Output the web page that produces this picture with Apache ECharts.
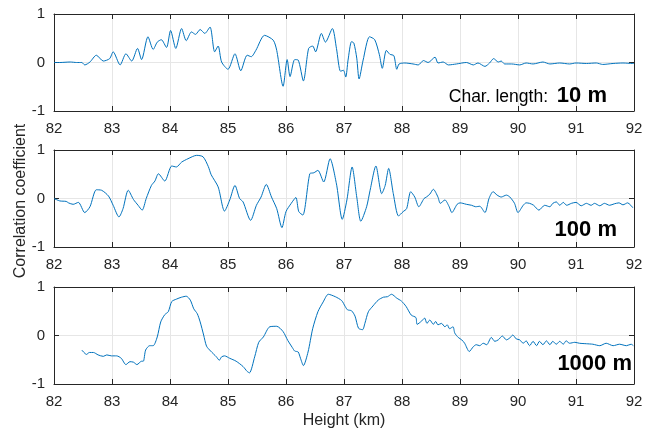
<!DOCTYPE html>
<html>
<head>
<meta charset="utf-8">
<script src="https://cdn.jsdelivr.net/npm/echarts@6/dist/echarts.min.js"></script>
<style>
  html, body { margin: 0; padding: 0; background: #fff; }
  #chart { width: 653px; height: 432px; }
</style>
</head>
<body>
<div id="chart"></div>
<script>
// Height (km) and correlation coefficient for each characteristic length
const h10 = [82.00,82.10,82.28,82.39,82.48,82.53,82.62,82.73,82.85,82.96,83.02,83.14,83.24,83.34,83.44,83.51,83.62,83.71,83.78,83.85,83.94,84.01,84.10,84.20,84.28,84.37,84.44,84.52,84.60,84.69,84.77,84.83,84.89,85.00,85.12,85.22,85.33,85.40,85.48,85.63,85.78,85.84,85.95,86.02,86.07,86.15,86.21,86.30,86.39,86.46,86.51,86.61,86.68,86.80,86.87,86.94,86.99,87.03,87.07,87.13,87.17,87.22,87.26,87.33,87.44,87.53,87.61,87.66,87.73,87.79,87.86,87.91,87.95,88.05,88.19,88.28,88.37,88.45,88.57,88.62,88.71,88.80,88.94,89.11,89.23,89.31,89.43,89.51,89.58,89.66,89.71,89.77,89.89,90.03,90.14,90.26,90.43,90.55,90.72,90.89,91.00,91.18,91.35,91.46,91.64,91.81,91.98,92.00];
const r10 = [0.00,0.00,0.01,0.00,0.00,-0.05,0.01,0.15,0.03,0.08,0.22,-0.05,0.18,0.03,0.29,0.06,0.53,0.27,0.42,0.47,0.31,0.66,0.29,0.70,0.45,0.63,0.58,0.68,0.60,0.73,0.22,0.34,0.01,-0.14,0.18,-0.17,0.15,0.12,0.25,0.56,0.46,0.25,-0.49,0.06,-0.29,0.06,0.05,-0.38,0.29,0.34,0.22,0.60,0.42,0.70,0.29,-0.18,-0.16,-0.30,0.05,0.43,0.40,0.09,-0.34,0.05,0.53,0.47,0.16,-0.12,0.25,0.17,0.14,-0.14,-0.03,-0.01,-0.03,-0.05,0.04,0.00,0.11,-0.01,0.01,-0.05,-0.03,0.00,-0.05,-0.01,-0.08,-0.01,0.08,0.01,0.03,-0.03,-0.03,-0.05,-0.01,-0.03,0.01,-0.03,-0.01,-0.03,-0.01,-0.02,-0.01,-0.04,-0.02,-0.01,-0.02,-0.02];

const h100 = [82.00,82.10,82.21,82.25,82.33,82.42,82.53,82.62,82.73,82.82,82.94,83.02,83.12,83.19,83.28,83.37,83.45,83.52,83.59,83.68,83.74,83.80,83.91,84.03,84.11,84.20,84.31,84.46,84.57,84.66,84.71,84.83,84.94,85.03,85.12,85.20,85.26,85.39,85.49,85.57,85.66,85.75,85.84,85.93,86.00,86.09,86.17,86.22,86.29,86.41,86.48,86.55,86.65,86.76,86.87,86.97,87.05,87.14,87.22,87.29,87.39,87.45,87.55,87.65,87.71,87.77,87.85,87.94,88.02,88.08,88.15,88.22,88.29,88.38,88.42,88.48,88.54,88.62,88.66,88.74,88.81,88.86,88.95,89.00,89.05,89.11,89.20,89.27,89.34,89.43,89.50,89.57,89.64,89.71,89.80,89.86,89.94,90.00,90.09,90.14,90.20,90.27,90.36,90.46,90.55,90.60,90.66,90.72,90.78,90.84,90.92,91.00,91.09,91.18,91.26,91.32,91.41,91.49,91.58,91.66,91.74,91.81,91.89,91.98];
const r100 = [0.00,-0.05,-0.06,-0.09,-0.12,-0.08,-0.29,-0.17,0.18,0.17,0.05,-0.14,-0.38,-0.21,0.17,-0.02,-0.14,-0.24,0.00,0.27,0.36,0.51,0.36,0.67,0.65,0.75,0.82,0.89,0.86,0.66,0.49,0.24,-0.26,-0.03,0.27,0.00,-0.07,-0.45,-0.14,0.03,0.29,0.03,-0.21,-0.60,-0.27,-0.10,0.02,-0.27,-0.34,0.51,0.53,0.58,0.34,0.82,0.30,-0.43,-0.03,0.65,0.03,-0.47,-0.17,0.17,0.67,0.10,0.27,0.62,0.10,-0.36,-0.27,-0.21,0.14,0.03,-0.17,0.00,0.03,0.09,0.19,0.03,-0.10,-0.03,-0.16,-0.29,-0.12,-0.09,-0.10,-0.12,-0.14,-0.17,-0.16,-0.29,0.00,0.14,0.07,0.03,0.07,0.03,-0.10,-0.29,-0.14,-0.09,-0.10,-0.14,-0.24,-0.14,-0.17,-0.10,-0.07,-0.14,-0.08,-0.14,-0.10,-0.08,-0.15,-0.10,-0.14,-0.10,-0.15,-0.10,-0.14,-0.11,-0.09,-0.13,-0.09,-0.19];

const h1000 = [82.48,82.56,82.61,82.68,82.76,82.85,82.91,82.99,83.08,83.16,83.24,83.31,83.37,83.43,83.51,83.54,83.58,83.65,83.71,83.78,83.84,83.91,83.97,84.03,84.11,84.20,84.28,84.35,84.41,84.47,84.52,84.58,84.63,84.70,84.80,84.85,84.89,84.94,85.03,85.14,85.26,85.33,85.37,85.46,85.53,85.61,85.72,85.84,85.95,86.03,86.11,86.15,86.21,86.25,86.30,86.38,86.46,86.55,86.64,86.73,86.85,86.96,87.02,87.06,87.13,87.19,87.25,87.32,87.36,87.42,87.50,87.59,87.68,87.75,87.82,87.91,87.99,88.07,88.16,88.24,88.26,88.34,88.39,88.43,88.48,88.54,88.58,88.62,88.68,88.74,88.78,88.82,88.88,88.91,88.97,89.03,89.08,89.16,89.23,89.28,89.34,89.40,89.46,89.54,89.60,89.66,89.73,89.80,89.86,89.91,89.97,90.03,90.09,90.14,90.20,90.26,90.32,90.37,90.43,90.49,90.55,90.60,90.66,90.72,90.78,90.83,90.89,90.98,91.06,91.18,91.29,91.41,91.52,91.64,91.75,91.87,91.95,91.99];
const r1000 = [-0.30,-0.39,-0.35,-0.35,-0.40,-0.43,-0.40,-0.42,-0.42,-0.47,-0.60,-0.54,-0.55,-0.60,-0.53,-0.53,-0.30,-0.21,-0.21,-0.03,0.28,0.43,0.49,0.70,0.75,0.79,0.81,0.73,0.55,0.45,0.28,0.01,-0.22,-0.32,-0.44,-0.51,-0.44,-0.42,-0.47,-0.53,-0.64,-0.74,-0.77,-0.44,-0.14,-0.03,0.18,0.19,0.08,-0.10,-0.25,-0.32,-0.34,-0.47,-0.62,-0.34,0.14,0.49,0.69,0.85,0.80,0.72,0.60,0.53,0.51,0.40,0.15,0.12,0.25,0.49,0.61,0.73,0.79,0.80,0.85,0.77,0.71,0.60,0.42,0.37,0.23,0.30,0.36,0.25,0.32,0.23,0.29,0.22,0.25,0.18,0.22,0.14,0.18,0.05,-0.04,-0.09,-0.16,-0.33,-0.23,-0.19,-0.21,-0.16,-0.19,-0.04,-0.12,-0.09,-0.01,-0.09,-0.05,0.01,-0.07,-0.09,-0.16,-0.11,-0.21,-0.12,-0.21,-0.12,-0.19,-0.11,-0.19,-0.12,-0.18,-0.12,-0.18,-0.11,-0.16,-0.14,-0.16,-0.17,-0.18,-0.21,-0.16,-0.21,-0.18,-0.21,-0.18,-0.21];

const xTicks = [82, 92, 1];   // min, max, step
const yTicks = [-1, 1, 1];

const labels = ['10 m', '100 m', '1000 m'];
const heights = [h10, h100, h1000];
const values = [r10, r100, r1000];

const axisColor = '#262626';
const fontFamily = 'Liberation Sans, Arial, sans-serif';
const gridTops = [14, 150, 287];
const gridH = 97;

const grids = [], xAxes = [], yAxes = [], series = [];
gridTops.forEach((top, i) => {
  grids.push({ left: 54, right: 19, top: top, height: gridH, show: false });
  // bottom axis with labels
  xAxes.push({
    type: 'value', gridIndex: i, min: xTicks[0], max: xTicks[1], interval: xTicks[2],
    position: 'bottom',
    axisLine: { show: true, onZero: false, lineStyle: { color: axisColor, width: 1 } },
    axisTick: { show: true, inside: true, length: 5, lineStyle: { color: axisColor } },
    axisLabel: { color: axisColor, fontSize: 15, fontFamily: fontFamily, margin: 10 },
    splitLine: { show: true, lineStyle: { color: '#e6e6e6', width: 1 } }
  });
  // top frame
  xAxes.push({
    type: 'value', gridIndex: i, min: xTicks[0], max: xTicks[1], interval: xTicks[2],
    position: 'top',
    axisLine: { show: true, onZero: false, lineStyle: { color: axisColor, width: 1 } },
    axisTick: { show: true, inside: true, length: 5, lineStyle: { color: axisColor } },
    axisLabel: { show: false }, splitLine: { show: false }
  });
  yAxes.push({
    type: 'value', gridIndex: i, min: yTicks[0], max: yTicks[1], interval: yTicks[2],
    position: 'left',
    axisLine: { show: true, onZero: false, lineStyle: { color: axisColor, width: 1 } },
    axisTick: { show: true, inside: true, length: 5, lineStyle: { color: axisColor } },
    axisLabel: { color: axisColor, fontSize: 15, fontFamily: fontFamily, margin: 9 },
    splitLine: { show: true, lineStyle: { color: '#e6e6e6', width: 1 } }
  });
  yAxes.push({
    type: 'value', gridIndex: i, min: yTicks[0], max: yTicks[1], interval: yTicks[2],
    position: 'right',
    axisLine: { show: true, onZero: false, lineStyle: { color: axisColor, width: 1 } },
    axisTick: { show: true, inside: true, length: 5, lineStyle: { color: axisColor } },
    axisLabel: { show: false }, splitLine: { show: false }
  });
  series.push({
    type: 'line', name: labels[i],
    xAxisIndex: 2 * i, yAxisIndex: 2 * i,
    data: heights[i].map((h, k) => [h, values[i][k]]),
    showSymbol: false, smooth: 0.25,
    lineStyle: { color: '#0072BD', width: 1 },
    z: 3
  });
});

const chart = echarts.init(document.getElementById('chart'), null, { renderer: 'canvas' });
chart.setOption({
  animation: false,
  backgroundColor: '#ffffff',
  grid: grids, xAxis: xAxes, yAxis: yAxes, series: series,
  graphic: [
    { type: 'text', x: 548, y: 97, style: { text: 'Char. length:', fill: '#000', font: '17.5px ' + fontFamily, align: 'right', verticalAlign: 'middle' }, z: 10 },
    { type: 'text', x: 607, y: 96, style: { text: labels[0], fill: '#000', font: 'bold 22px ' + fontFamily, align: 'right', verticalAlign: 'middle' }, z: 10 },
    { type: 'text', x: 617, y: 230, style: { text: labels[1], fill: '#000', font: 'bold 22px ' + fontFamily, align: 'right', verticalAlign: 'middle' }, z: 10 },
    { type: 'text', x: 632, y: 364, style: { text: labels[2], fill: '#000', font: 'bold 22px ' + fontFamily, align: 'right', verticalAlign: 'middle' }, z: 10 },
    { type: 'text', x: 344, y: 421, style: { text: 'Height (km)', fill: axisColor, font: '16px ' + fontFamily, align: 'center', verticalAlign: 'middle' }, z: 10 },
    { type: 'text', x: 21, y: 201, rotation: Math.PI / 2, style: { text: 'Correlation coefficient', fill: axisColor, font: '16px ' + fontFamily, align: 'center', verticalAlign: 'middle' }, z: 10 }
  ]
});
</script>
</body>
</html>
